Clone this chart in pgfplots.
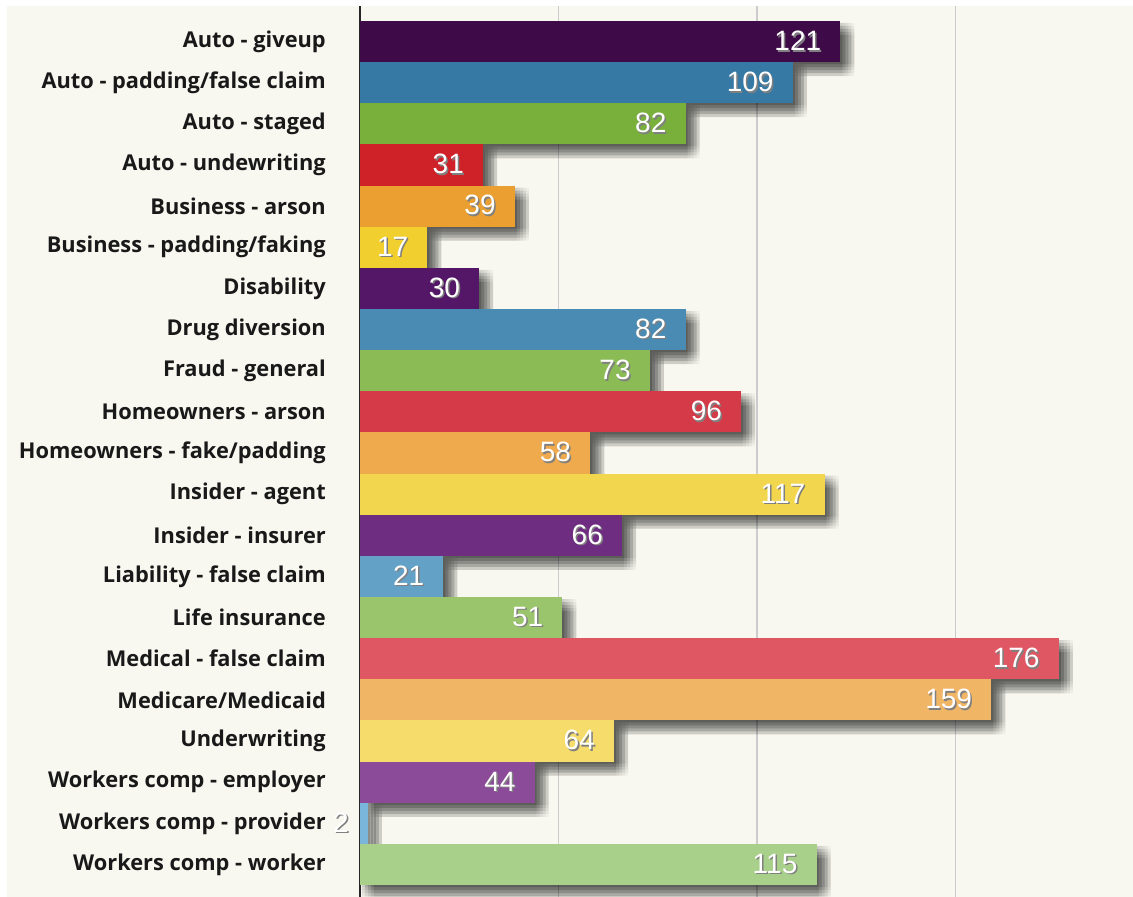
\documentclass[border=0pt]{standalone}
\usepackage{pgfplots}
\usepackage{pgfplotstable}
\pgfplotsset{compat=1.18}
\usepackage{fontspec}
\newfontfamily\catfont{Open Sans}
\newfontfamily\valfont{Liberation Sans}
\definecolor{cream}{HTML}{F8F8F0}
\definecolor{c1}{HTML}{3E0B48}
\definecolor{c2}{HTML}{3579A4}
\definecolor{c3}{HTML}{79B03B}
\definecolor{c4}{HTML}{CF2128}
\definecolor{c5}{HTML}{EB9F30}
\definecolor{c6}{HTML}{F0CF2F}
\definecolor{c7}{HTML}{541767}
\definecolor{c8}{HTML}{4A8BB3}
\definecolor{c9}{HTML}{8BBB55}
\definecolor{c10}{HTML}{D43A48}
\definecolor{c11}{HTML}{EEAA4D}
\definecolor{c12}{HTML}{F2D64D}
\definecolor{c13}{HTML}{6E2D80}
\definecolor{c14}{HTML}{64A1C6}
\definecolor{c15}{HTML}{9AC56C}
\definecolor{c16}{HTML}{DE5763}
\definecolor{c17}{HTML}{F1B566}
\definecolor{c18}{HTML}{F5DC6B}
\definecolor{c19}{HTML}{8B4B99}
\definecolor{c20}{HTML}{7AB6DC}
\definecolor{c21}{HTML}{A9D08A}
\pgfplotstableread{
v y
121 0
109 1
82 2
31 3
39 4
17 5
30 6
82 7
73 8
96 9
58 10
117 11
66 12
21 13
51 14
176 15
159 16
64 17
44 18
2 19
115 20
}\data
\newcommand\vlab[1]{\makebox[0pt][l]{\kern1.5pt\raisebox{-1.5pt}{\textcolor{black!50}{#1}}}#1}
\pgfplotsset{
  lab/.style={point meta=x,
    nodes near coords={\vlab{\pgfmathprintnumber[assume math mode=true]{\pgfplotspointmeta}}},
    nodes near coords style={anchor=east, xshift=-19pt, text=white, font=\valfont\fontsize{28}{30}\selectfont, inner sep=0pt}},
  sh/.style 2 args={fill=black, fill opacity=0.036, draw=none, bar width=1,
    transform canvas={xshift=#1, yshift=-#2}},
}
\begin{document}
\begin{tikzpicture}
\useasboundingbox (0,0) rectangle (1133pt,897pt);
\fill[white] (0,0) rectangle (1133pt,897pt);
\fill[cream] (7pt,0) rectangle (1133pt,891pt);
\begin{axis}[
  at={(360pt,0pt)}, anchor=south west, scale only axis,
  width=773pt, height=891pt,
  xmin=0, xmax=194.7, ymin=-0.863, ymax=20.79, y dir=reverse,
  axis x line*=bottom, axis y line*=left,
  x axis line style={draw=none},
  y axis line style={line width=1.5pt, color=black!85},
  xtick={50,100,150}, xticklabels={},
  xmajorgrids, major grid style={line width=1.6pt, color=black!20},
  ytick={0,...,20},
  yticklabels={Auto - giveup, Auto - padding/false claim, Auto - staged, Auto - undewriting, Business - arson, Business - padding/faking, Disability, Drug diversion, Fraud - general, Homeowners - arson, Homeowners - fake/padding, Insider - agent, Insider - insurer, Liability - false claim, Life insurance, Medical - false claim, Medicare/Medicaid, Underwriting, Workers comp - employer, Workers comp - provider, Workers comp - worker},
  major tick length=0pt,
  yticklabel style={font=\catfont\bfseries\fontsize{21.8}{24}\selectfont, text=black!90, anchor=east, inner sep=0pt, xshift=-34pt},
  xbar, bar width=1, bar shift=0pt,
  every axis plot/.append style={bar shift=0pt, draw=none},
  clip=false,
]
\addplot[sh={2pt}{2pt}] table[x=v,y=y] {\data};
\addplot[sh={5pt}{2pt}] table[x=v,y=y] {\data};
\addplot[sh={8pt}{2pt}] table[x=v,y=y] {\data};
\addplot[sh={11pt}{2pt}] table[x=v,y=y] {\data};
\addplot[sh={14pt}{2pt}] table[x=v,y=y] {\data};
\addplot[sh={2pt}{5pt}] table[x=v,y=y] {\data};
\addplot[sh={5pt}{5pt}] table[x=v,y=y] {\data};
\addplot[sh={8pt}{5pt}] table[x=v,y=y] {\data};
\addplot[sh={11pt}{5pt}] table[x=v,y=y] {\data};
\addplot[sh={14pt}{5pt}] table[x=v,y=y] {\data};
\addplot[sh={2pt}{8pt}] table[x=v,y=y] {\data};
\addplot[sh={5pt}{8pt}] table[x=v,y=y] {\data};
\addplot[sh={8pt}{8pt}] table[x=v,y=y] {\data};
\addplot[sh={11pt}{8pt}] table[x=v,y=y] {\data};
\addplot[sh={14pt}{8pt}] table[x=v,y=y] {\data};
\addplot[sh={2pt}{11pt}] table[x=v,y=y] {\data};
\addplot[sh={5pt}{11pt}] table[x=v,y=y] {\data};
\addplot[sh={8pt}{11pt}] table[x=v,y=y] {\data};
\addplot[sh={11pt}{11pt}] table[x=v,y=y] {\data};
\addplot[sh={14pt}{11pt}] table[x=v,y=y] {\data};
\addplot[sh={2pt}{14pt}] table[x=v,y=y] {\data};
\addplot[sh={5pt}{14pt}] table[x=v,y=y] {\data};
\addplot[sh={8pt}{14pt}] table[x=v,y=y] {\data};
\addplot[sh={11pt}{14pt}] table[x=v,y=y] {\data};
\addplot[sh={14pt}{14pt}] table[x=v,y=y] {\data};
\addplot[fill=c1, lab] coordinates {(121,0)};
\addplot[fill=c2, lab] coordinates {(109,1)};
\addplot[fill=c3, lab] coordinates {(82,2)};
\addplot[fill=c4, lab] coordinates {(31,3)};
\addplot[fill=c5, lab] coordinates {(39,4)};
\addplot[fill=c6, lab] coordinates {(17,5)};
\addplot[fill=c7, lab] coordinates {(30,6)};
\addplot[fill=c8, lab] coordinates {(82,7)};
\addplot[fill=c9, lab] coordinates {(73,8)};
\addplot[fill=c10, lab] coordinates {(96,9)};
\addplot[fill=c11, lab] coordinates {(58,10)};
\addplot[fill=c12, lab] coordinates {(117,11)};
\addplot[fill=c13, lab] coordinates {(66,12)};
\addplot[fill=c14, lab] coordinates {(21,13)};
\addplot[fill=c15, lab] coordinates {(51,14)};
\addplot[fill=c16, lab] coordinates {(176,15)};
\addplot[fill=c17, lab] coordinates {(159,16)};
\addplot[fill=c18, lab] coordinates {(64,17)};
\addplot[fill=c19, lab] coordinates {(44,18)};
\addplot[fill=c20, lab] coordinates {(2,19)};
\addplot[fill=c21, lab] coordinates {(115,20)};
\end{axis}
\end{tikzpicture}
\end{document}
